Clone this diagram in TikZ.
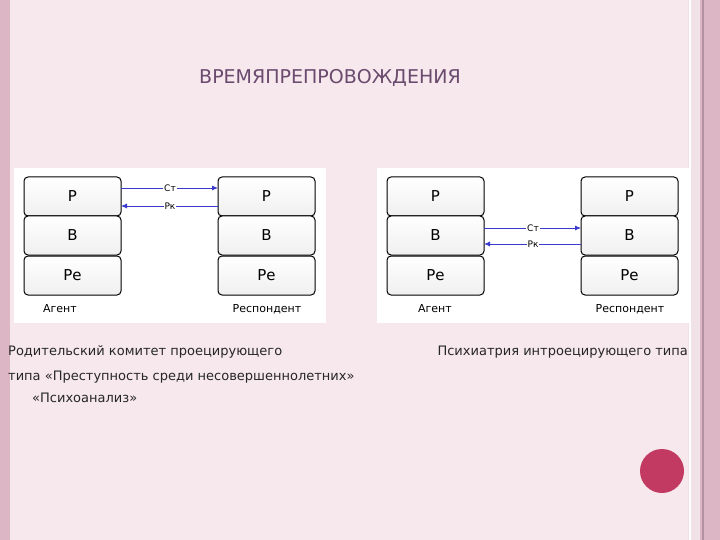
\documentclass[tikz,border=0pt]{standalone}
\usepackage{fontspec}
\setmainfont{DejaVu Sans}
\usetikzlibrary{arrows.meta}
\definecolor{bg}{HTML}{F6E8EC}
\definecolor{strip}{HTML}{DDB6C5}
\definecolor{title}{HTML}{6A4A6E}
\definecolor{dot}{HTML}{C23A62}
\definecolor{arr}{HTML}{3A3ACF}
\tikzset{
  blk/.style={draw=black, line width=1pt, rounded corners=4pt, top color=white, bottom color=gray!12, minimum width=97pt, minimum height=39pt, inner sep=0pt, font=\fontsize{15}{15}\selectfont},
  caplbl/.style={font=\fontsize{11}{11}\selectfont, inner sep=1pt},
  lbl/.style={font=\fontsize{9}{9}\selectfont, fill=white, inner sep=1pt},
  ar/.style={draw=arr, line width=0.8pt, -{Latex[length=6pt,width=5pt]}},
  body/.style={font=\fontsize{13}{13}\selectfont, inner sep=0pt, text=black!85}
}
\begin{document}
\begin{tikzpicture}[x=1pt,y=-1pt]
\useasboundingbox (0,0) rectangle (720,540);
\fill[bg] (0,0) rectangle (720,540);
\fill[strip] (0,0) rectangle (10,540);
\fill[white!60!strip] (688,0) rectangle (700,540);
\fill[white] (689,0) rectangle (691,540);
\fill[strip] (700,0) rectangle (720,540);
\fill[strip!80!black] (702,0) rectangle (704,540);
\node[font=\fontsize{19}{19}\selectfont, text=title] (t) at (330,78) {ВРЕМЯПРЕПРОВОЖДЕНИЯ};
% left panel
\fill[white] (14,168) rectangle (326,323);
\node[blk] (a1) at (72.5,196.5) {Р};
\node[blk] (a2) at (72.5,235.5) {В};
\node[blk] (a3) at (72.5,275.5) {Ре};
\node[blk] (b1) at (266.5,196.5) {Р};
\node[blk] (b2) at (266.5,235.5) {В};
\node[blk] (b3) at (266.5,275.5) {Ре};
\node[caplbl] (ag1) at (60,309) {Агент};
\node[caplbl] (re1) at (267,309) {Респондент};
\coordinate (s1) at (121,188); \coordinate (e1) at (218,188);
\coordinate (s2) at (218,206); \coordinate (e2) at (121,206);
\draw[ar] (s1) -- (e1);
\draw[ar] (s2) -- (e2);
\node[lbl] (c1) at (170,188) {Ст};
\node[lbl] (r1) at (170,206) {Рк};
% right panel
\fill[white] (377,168) rectangle (689,323);
\node[blk] (a4) at (435.5,196.5) {Р};
\node[blk] (a5) at (435.5,235.5) {В};
\node[blk] (a6) at (435.5,275.5) {Ре};
\node[blk] (b4) at (629.5,196.5) {Р};
\node[blk] (b5) at (629.5,235.5) {В};
\node[blk] (b6) at (629.5,275.5) {Ре};
\node[caplbl] (ag2) at (435,309) {Агент};
\node[caplbl] (re2) at (630,309) {Респондент};
\coordinate (s3) at (484,228); \coordinate (e3) at (581,228);
\coordinate (s4) at (581,244); \coordinate (e4) at (484,244);
\draw[ar] (s3) -- (e3);
\draw[ar] (s4) -- (e4);
\node[lbl] (c2) at (533,228) {Ст};
\node[lbl] (r2) at (533,244) {Рк};
% texts
\node[body, anchor=west] (p1) at (8,352) {Родительский комитет проецирующего};
\node[body, anchor=east] (p2) at (688,352) {Психиатрия интроецирующего типа};
\node[body, anchor=west] (p3) at (8,377) {типа «Преступность среди несовершеннолетних»};
\node[body, anchor=west] (p4) at (32,398) {«Психоанализ»};
\fill[dot] (662,471) circle (22);
\end{tikzpicture}
\end{document}
